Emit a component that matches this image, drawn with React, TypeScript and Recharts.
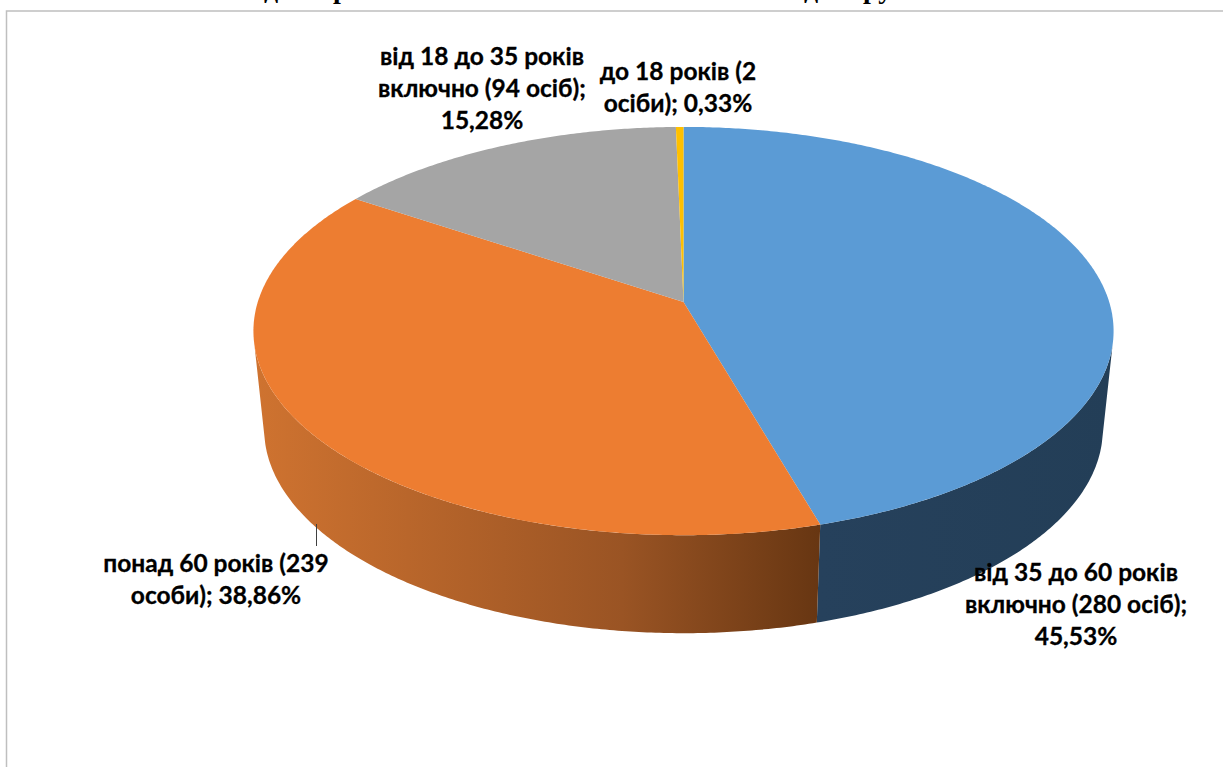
import { PieChart, Pie } from "recharts";

// people per age group, clockwise from 12 o'clock
const groups = ["від 35 до 60 років включно", "понад 60 років", "від 18 до 35 років включно", "до 18 років"];
const people = [280, 239, 94, 2];
const topColors = ["#5B9BD5", "#ED7D31", "#A5A5A5", "#FFC000"];

const labelLines = [
  ["від 35 до 60 років", "включно (280 осіб);", "45,53%"],
  ["понад 60 років (239", "особи); 38,86%"],
  ["від 18 до 35 років", "включно (94 осіб);", "15,28%"],
  ["до 18 років (2", "осіби); 0,33%"],
];
const labelX = [1076, 216, 482, 678];
const labelY = [581, 572, 65, 80];

const titleBits = [
  { text: "д", x: 264 },
  { text: "р", x: 333 },
  { text: "д", x: 804 },
  { text: "ру", x: 863 },
];

const data = groups.map((name, i) => ({ name, value: people[i], fill: topColors[i] }));

const WIDTH = 1223;
const HEIGHT = 767;
const FONT = "Lato, sans-serif";

// the office-style 3D tilt: circle on a plane seen in perspective
const WIDE = 425.7;
const TILT = 0.1423;
const DEPTH = 98;
const BOTTOM_SCALE = 0.975;
// clockwise-from-top range in which the wall can be seen
const WALL_FROM = 102;
const WALL_TO = 258;

function rimPoint(cx: number, cy: number, r: number, deg: number, bottom = false) {
  const a = (deg * Math.PI) / 180;
  const w = 1 + TILT * Math.sin(a);
  const x = (WIDE * Math.cos(a)) / w;
  const y = (r * Math.sin(a)) / w;
  return bottom
    ? [cx + x * BOTTOM_SCALE, cy - y + DEPTH]
    : [cx + x, cy - y];
}

function rim(cx: number, cy: number, r: number, from: number, to: number, bottom = false) {
  const steps = Math.max(2, Math.ceil(Math.abs(to - from) * 2));
  const pts: number[][] = [];
  for (let i = 0; i <= steps; i++) {
    pts.push(rimPoint(cx, cy, r, from + ((to - from) * i) / steps, bottom));
  }
  return pts;
}

const toPath = (pts: number[][]) =>
  pts.map((p, i) => `${i ? "L" : "M"}${p[0].toFixed(2)} ${p[1].toFixed(2)}`).join(" ") + " Z";

function Slice(props: any) {
  const { cx, cy, outerRadius, startAngle, endAngle, fill } = props;
  const top = [[cx, cy], ...rim(cx, cy, outerRadius, startAngle, endAngle)];
  // recharts angles run counter-clockwise from 3 o'clock
  const wallStart = Math.min(startAngle, 90 - WALL_FROM);
  const wallEnd = Math.max(endAngle, 90 - WALL_TO);
  const hasWall = wallStart > wallEnd;
  const wall = hasWall
    ? [
        ...rim(cx, cy, outerRadius, wallStart, wallEnd),
        ...rim(cx, cy, outerRadius, wallEnd, wallStart, true),
      ]
    : [];
  const wallFill = fill === topColors[0] ? "url(#wallBlue)" : "url(#wallOrange)";
  return (
    <g>
      <defs>
        <linearGradient id="wallOrange" gradientUnits="userSpaceOnUse" x1="254" y1="0" x2="820" y2="0">
          <stop offset="0" stopColor="#CF7330" />
          <stop offset="0.65" stopColor="#9A5424" />
          <stop offset="1" stopColor="#673612" />
        </linearGradient>
        <linearGradient id="wallBlue" gradientUnits="userSpaceOnUse" x1="820" y1="0" x2="1113" y2="0">
          <stop offset="0" stopColor="#26415C" />
          <stop offset="1" stopColor="#233E57" />
        </linearGradient>
      </defs>
      {hasWall && <path d={toPath(wall)} fill={wallFill} />}
      <path d={toPath(top)} fill={fill} />
    </g>
  );
}

function SliceLabel(props: any) {
  const { index } = props;
  return (
    <g>
      {index === 1 && <line x1={316.5} y1={524} x2={316.5} y2={546} stroke="#404040" strokeWidth={1} />}
      <text
        x={labelX[index]}
        y={labelY[index]}
        textAnchor="middle"
        fontFamily={FONT}
        fontWeight={700}
        fontSize={24.5}
        stroke="#000000"
        strokeWidth={0.3}
        fill="#000000"
      >
        {labelLines[index].map((line, i) => (
          <tspan key={line} x={labelX[index]} dy={i ? 32 : 0}>
            {line}
          </tspan>
        ))}
      </text>
    </g>
  );
}

export default function App() {
  return (
    <div style={{ position: "absolute", left: 0, top: 0, width: WIDTH, height: HEIGHT, overflow: "hidden", background: "#fff" }}>
      <svg width={WIDTH} height={HEIGHT} style={{ position: "absolute", left: 0, top: 0 }}>
        <path d={`M6.5 ${HEIGHT} L6.5 11 L${WIDTH} 11`} fill="none" stroke="#BFBFBF" strokeWidth={1.5} />
        {titleBits.map((bit) => (
          <text key={bit.x} x={bit.x} y={-2} fontFamily="Liberation Serif, serif" fontWeight={700} fontSize={28} fill="#000">
            {bit.text}
          </text>
        ))}
      </svg>
      <div style={{ position: "absolute", left: 0, top: 0 }}>
        <PieChart width={WIDTH} height={HEIGHT} margin={{ top: 0, right: 0, bottom: 0, left: 0 }}>
          <Pie
            data={data}
            dataKey="value"
            nameKey="name"
            cx={683.5}
            cy={302}
            outerRadius={200}
            startAngle={90}
            endAngle={-270}
            stroke="none"
            shape={Slice}
            label={SliceLabel}
            labelLine={false}
            isAnimationActive={false}
          />
        </PieChart>
      </div>
    </div>
  );
}
